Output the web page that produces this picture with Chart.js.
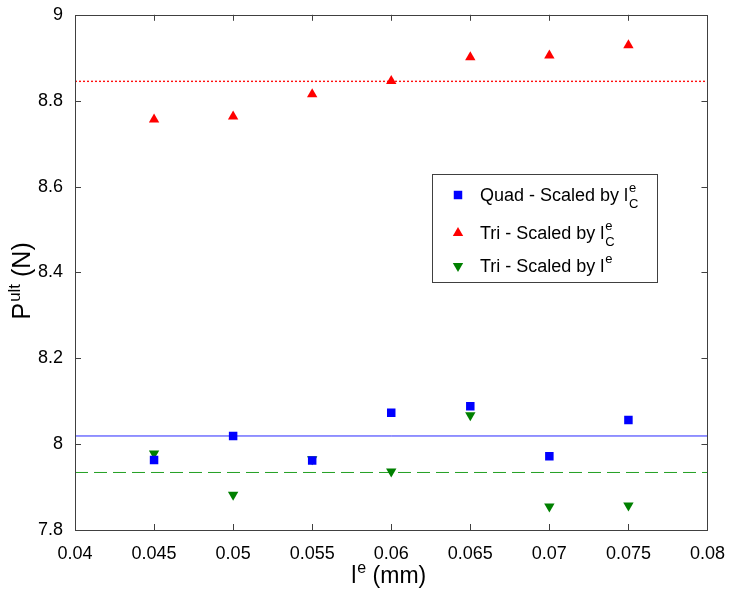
<!DOCTYPE html>
<html>
<head>
<meta charset="utf-8">
<script src="https://cdn.jsdelivr.net/npm/chart.js@4.4.1/dist/chart.umd.min.js"></script>
<style>
  html, body { margin: 0; padding: 0; background: #fff; }
  canvas { display: block; }
</style>
</head>
<body>
<canvas id="Pult_Chart" width="730" height="592"></canvas>
<script>
// element size l^e (mm)
const xValues = [0.045, 0.05, 0.055, 0.06, 0.065, 0.07, 0.075];
// P^ult (N) per series
const quadScaledC = [7.963, 8.019, 7.962, 8.073, 8.088, 7.972, 8.056];
const triScaledC = [8.756, 8.763, 8.815, 8.846, 8.901, 8.905, 8.929];
const triScaledE = [7.978, 7.882, 7.965, 7.936, 8.067, 7.855, 7.857];
// horizontal reference lines
const lineX = [0.04, 0.08];
const quadMean = 8.019;
const triCMean = 8.845;
const triEMean = 7.934;

const xTicks = [0.04, 0.045, 0.05, 0.055, 0.06, 0.065, 0.07, 0.075, 0.08];
const xTickLabels = ['0.04', '0.045', '0.05', '0.055', '0.06', '0.065', '0.07', '0.075', '0.08'];
const yTicks = [7.8, 8, 8.2, 8.4, 8.6, 8.8, 9];
const yTickLabels = ['7.8', '8', '8.2', '8.4', '8.6', '8.8', '9'];

const legendLabels = [
    { text: 'Quad - Scaled by l', sup: 'e', sub: 'C' },
    { text: 'Tri - Scaled by l', sup: 'e', sub: 'C' },
    { text: 'Tri - Scaled by l', sup: 'e', sub: '' }
];

const FONT = "'Liberation Sans', Arial, sans-serif";

function points(ys) {
    return xValues.map((x, i) => ({ x: x, y: ys[i] }));
}
function flat(y) {
    return lineX.map(x => ({ x: x, y: y }));
}

function drawMarker(ctx, style, x, y, color) {
    ctx.save();
    ctx.fillStyle = color;
    ctx.beginPath();
    const r = 6;
    if (style === 'rect') {
        const s = r * Math.SQRT1_2;
        ctx.rect(x - s, y - s, 2 * s, 2 * s);
    } else {
        const dir = style === 'down' ? -1 : 1;
        ctx.moveTo(x, y - dir * r);
        ctx.lineTo(x - r * 0.866, y + dir * r * 0.5);
        ctx.lineTo(x + r * 0.866, y + dir * r * 0.5);
        ctx.closePath();
    }
    ctx.fill();
    ctx.restore();
}

const framePlugin = {
    id: 'frame',
    afterDatasetsDraw(chart) {
        const ctx = chart.ctx;
        const a = chart.chartArea;
        const xs = chart.scales.x, ys = chart.scales.y;
        ctx.save();
        ctx.strokeStyle = '#404040';
        ctx.lineWidth = 1;
        ctx.strokeRect(Math.round(a.left) + 0.5, Math.round(a.top) + 0.5,
            Math.round(a.right - a.left), Math.round(a.bottom - a.top));
        ctx.beginPath();
        const tl = 6;
        xTicks.slice(1, -1).forEach(v => {
            const px = Math.round(xs.getPixelForValue(v)) + 0.5;
            ctx.moveTo(px, a.bottom); ctx.lineTo(px, a.bottom - tl);
            ctx.moveTo(px, a.top); ctx.lineTo(px, a.top + tl);
        });
        yTicks.slice(1, -1).forEach(v => {
            const py = Math.round(ys.getPixelForValue(v)) + 0.5;
            ctx.moveTo(a.left, py); ctx.lineTo(a.left + tl, py);
            ctx.moveTo(a.right, py); ctx.lineTo(a.right - tl, py);
        });
        ctx.stroke();
        ctx.restore();
    },
    afterDraw(chart) {
        const ctx = chart.ctx;
        const a = chart.chartArea;
        ctx.save();
        ctx.fillStyle = '#000';
        ctx.textBaseline = 'alphabetic';

        // x axis title: l^e (mm)
        ctx.font = '23px ' + FONT;
        const wl = ctx.measureText('l').width;
        const wr = ctx.measureText(' (mm)').width;
        ctx.font = '16px ' + FONT;
        const we = ctx.measureText('e').width;
        let x0 = (a.left + a.right) / 2 - (wl + we + wr) / 2 - 3;
        const yb = 583;
        ctx.font = '23px ' + FONT;
        ctx.textAlign = 'left';
        ctx.fillText('l', x0, yb);
        ctx.font = '16px ' + FONT;
        ctx.fillText('e', x0 + wl + 1, yb - 10);
        ctx.font = '23px ' + FONT;
        ctx.fillText(' (mm)', x0 + wl + we + 1, yb);

        // y axis title: P^ult (N)
        ctx.save();
        ctx.translate(30, (a.top + a.bottom) / 2 + 9);
        ctx.rotate(-Math.PI / 2);
        ctx.font = '25px ' + FONT;
        const wp = ctx.measureText('P').width;
        const wn = ctx.measureText(' (N)').width;
        ctx.font = '17px ' + FONT;
        const wu = ctx.measureText('ult').width;
        let s0 = -(wp + wu + wn) / 2;
        ctx.font = '25px ' + FONT;
        ctx.fillText('P', s0, 0);
        ctx.font = '17px ' + FONT;
        ctx.fillText('ult', s0 + wp + 1, -10);
        ctx.font = '25px ' + FONT;
        ctx.fillText(' (N)', s0 + wp + wu + 1, 0);
        ctx.restore();

        // legend box
        const box = { x: 432, y: 174, w: 225, h: 108 };
        ctx.fillStyle = '#fff';
        ctx.fillRect(box.x, box.y, box.w, box.h);
        ctx.strokeStyle = '#404040';
        ctx.lineWidth = 1;
        ctx.strokeRect(box.x + 0.5, box.y + 0.5, box.w, box.h);

        const rows = [195, 233, 266];
        const styles = ['rect', 'up', 'down'];
        const colors = ['#0000ff', '#ff0000', '#008000'];
        legendLabels.forEach((lab, i) => {
            const cy = rows[i];
            drawMarker(ctx, styles[i], 458, cy, colors[i]);
            ctx.fillStyle = '#000';
            ctx.font = '18px ' + FONT;
            ctx.textAlign = 'left';
            const base = cy + 6;
            ctx.fillText(lab.text, 480, base);
            const tw = ctx.measureText(lab.text).width;
            ctx.font = '13px ' + FONT;
            ctx.fillText(lab.sup, 480 + tw + 1, base - 9);
            if (lab.sub) {
                ctx.fillText(lab.sub, 480 + tw + 1, base + 7);
            }
        });
        ctx.restore();
    }
};

const ctx = document.getElementById('Pult_Chart').getContext('2d');

new Chart(ctx, {
    type: 'scatter',
    data: {
        datasets: [
            {
                label: 'Quad - Scaled by lCe',
                data: points(quadScaledC),
                pointStyle: 'rect',
                pointRadius: 6,
                pointBorderWidth: 0,
                backgroundColor: '#0000ff',
                borderColor: '#0000ff'
            },
            {
                label: 'Tri - Scaled by lCe',
                data: points(triScaledC),
                pointStyle: 'triangle',
                pointRadius: 6,
                pointBorderWidth: 0,
                backgroundColor: '#ff0000',
                borderColor: '#ff0000'
            },
            {
                label: 'Tri - Scaled by le',
                data: points(triScaledE),
                pointStyle: 'triangle',
                pointRotation: 180,
                pointRadius: 6,
                pointBorderWidth: 0,
                backgroundColor: '#008000',
                borderColor: '#008000'
            },
            {
                label: 'quad mean',
                data: flat(quadMean),
                showLine: true,
                borderColor: '#2828ff',
                borderWidth: 1,
                pointRadius: 0
            },
            {
                label: 'tri C mean',
                data: flat(triCMean),
                showLine: true,
                borderColor: '#ff1010',
                borderWidth: 1.4,
                borderDash: [2, 2],
                borderCapStyle: 'butt',
                pointRadius: 0
            },
            {
                label: 'tri e mean',
                data: flat(triEMean),
                showLine: true,
                borderColor: '#22a022',
                borderWidth: 1,
                borderDash: [13, 6],
                pointRadius: 0
            }
        ]
    },
    options: {
        responsive: false,
        animation: false,
        devicePixelRatio: 1,
        layout: { padding: { left: 0, right: 21, top: 12, bottom: 0 } },
        plugins: {
            legend: { display: false },
            tooltip: { enabled: false }
        },
        scales: {
            x: {
                type: 'linear',
                min: 0.04,
                max: 0.08,
                grid: { display: false },
                border: { display: false },
                afterBuildTicks: scale => { scale.ticks = xTicks.map(v => ({ value: v })); },
                afterFit: scale => { scale.height = 62; },
                ticks: {
                    autoSkip: false,
                    maxRotation: 0,
                    padding: 5,
                    color: '#000',
                    font: { family: FONT, size: 18 },
                    callback: (v, i) => xTickLabels[i]
                }
            },
            y: {
                type: 'linear',
                min: 7.8,
                max: 9,
                grid: { display: false },
                border: { display: false },
                afterBuildTicks: scale => { scale.ticks = yTicks.map(v => ({ value: v })); },
                afterFit: scale => { scale.width = 75; },
                ticks: {
                    autoSkip: false,
                    padding: 4,
                    color: '#000',
                    font: { family: FONT, size: 18 },
                    callback: (v, i) => yTickLabels[i]
                }
            }
        }
    },
    plugins: [framePlugin]
});
</script>
</body>
</html>
